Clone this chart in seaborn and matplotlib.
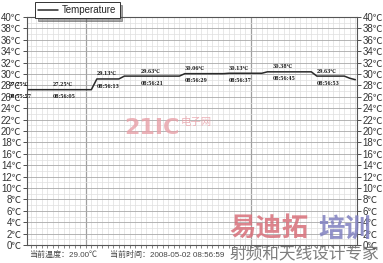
import numpy as np
import pandas as pd
import seaborn as sns
import matplotlib.pyplot as plt
from matplotlib.ticker import MultipleLocator, FixedLocator

# ---- data ----
seconds = [0, 8, 15, 16, 20, 21, 31, 32, 39, 40, 46, 47, 55, 56, 61, 62, 63]
temps = [27.25, 27.25, 27.25, 29.13, 29.13, 29.63, 29.63, 30.06, 30.06, 30.13,
         30.13, 30.38, 30.38, 29.63, 29.63, 29.25, 29.00]

label_seconds = [0, 8, 16, 24, 32, 40, 48, 56]
label_temps = [27.25, 27.25, 29.13, 29.63, 30.06, 30.13, 30.38, 29.63]
label_times = ["08:55:57", "08:56:05", "08:56:13", "08:56:21",
               "08:56:29", "08:56:37", "08:56:45", "08:56:53"]

ytick_values = list(range(0, 41, 2))
ytick_labels = [f"{v}℃" for v in ytick_values]

status_temp = "当前温度：29.00℃"
status_time = "当前时间：2008-05-02 08:56:59"

df = pd.DataFrame({"sec": seconds, "temp": temps})

sns.set_theme(style="white")
FONT = ["Liberation Sans", "Noto Sans CJK SC", "DejaVu Sans"]
plt.rcParams["font.family"] = FONT

fig = plt.figure(figsize=(3.83, 2.63), dpi=100)
ax = fig.add_axes([27 / 383, 18 / 263, 330 / 383, 228 / 263])

sns.lineplot(data=df, x="sec", y="temp", ax=ax, color="#2a2a2a",
             linewidth=1.1, label="Temperature", legend=False)

ax.set_xlim(3.3, 63.3)
ax.set_ylim(0, 40)

# grid
ax.xaxis.set_minor_locator(MultipleLocator(1))
ax.xaxis.set_major_locator(FixedLocator([14.0, 44.0]))
ax.yaxis.set_major_locator(FixedLocator(ytick_values))
ax.yaxis.set_minor_locator(MultipleLocator(1))
ax.grid(which="minor", color="#dedede", linewidth=0.5)
ax.grid(which="major", axis="y", color="#a8a8a8", linewidth=0.6)
ax.grid(which="major", axis="x", color="#a0a0a0", linewidth=0.9)
ax.set_axisbelow(True)

ax.set_yticklabels(ytick_labels)
ax.tick_params(axis="y", which="major", labelsize=7, colors="#333333",
               length=3, width=0.6, direction="out",
               left=True, right=True, labelleft=True, labelright=True, pad=1)
ax.tick_params(axis="y", which="minor", length=0)
ax.tick_params(axis="x", which="both", labelbottom=False, length=2,
               width=0.5, bottom=True, colors="#555555", direction="out")
ax.set_xlabel("")
ax.set_ylabel("")
for s in ax.spines.values():
    s.set_color("#555555")
    s.set_linewidth(0.8)

# point labels
for sec, t, tm in zip(label_seconds, label_temps, label_times):
    ax.text(sec, t + 0.45, f"{t:.2f}℃", fontsize=3.3, fontweight="bold",
            family=["DejaVu Serif", "Noto Sans CJK SC"], color="#1a1a1a",
            ha="left", va="bottom", clip_on=False)
    ax.text(sec, t - 0.8, tm, fontsize=3.3, fontweight="bold",
            family=["DejaVu Serif"], color="#1a1a1a",
            ha="left", va="top", clip_on=False)

# legend
handles, labels = ax.get_legend_handles_labels()
leg = fig.legend(handles, labels, loc="upper left",
                 bbox_to_anchor=(35 / 383, 1 - 2 / 263), frameon=True,
                 fancybox=False, shadow=True, fontsize=7, handlelength=2.1,
                 handletextpad=0.4, borderpad=0.3, borderaxespad=0)
leg.get_frame().set_edgecolor("#333333")
leg.get_frame().set_linewidth(0.7)

# status line
fig.text(29 / 383, 1 - 255 / 263, status_temp, fontsize=5.8,
         color="#444444", ha="left", va="center", family=FONT)
fig.text(110 / 383, 1 - 255 / 263, status_time, fontsize=5.8,
         color="#444444", ha="left", va="center", family=FONT)

# watermarks
fig.text(124 / 383, 1 - 128 / 263, "21IC", fontsize=16, fontweight="bold",
         color="#e8a0a8", alpha=0.8, ha="left", va="center",
         family=["DejaVu Sans"])
fig.text(181 / 383, 1 - 122 / 263, "电子网", fontsize=7.5, color="#e8a0a8",
         alpha=0.8, ha="left", va="center", family=["Noto Sans CJK SC"])
fig.text(229 / 383, 1 - 229 / 263, "易迪拓", fontsize=19, fontweight="bold",
         color="#d8707a", alpha=0.85, ha="left", va="center",
         family=["Noto Sans CJK SC"])
fig.text(318 / 383, 1 - 229 / 263, "培训", fontsize=19, fontweight="bold",
         color="#8080c0", alpha=0.85, ha="left", va="center",
         family=["Noto Sans CJK SC"])
fig.text(230 / 383, 1 - 254 / 263, "射频和天线设计专家", fontsize=12,
         color="#707070", alpha=0.9, ha="left", va="center",
         family=["Noto Sans CJK SC"])

fig.savefig("out.png", dpi=100)
